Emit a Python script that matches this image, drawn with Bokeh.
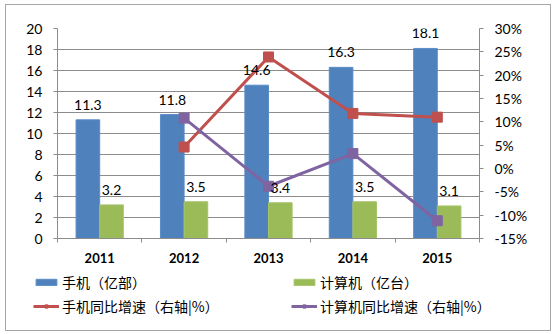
from bokeh.plotting import figure
from bokeh.models import (Range1d, LinearAxis, FixedTicker, PrintfTickFormatter,
                          ColumnDataSource, Legend, LegendItem)
from bokeh.embed import file_html
from bokeh.resources import INLINE
from bokeh.core.properties import value

years = ["2011", "2012", "2013", "2014", "2015"]
phones = [11.3, 11.8, 14.6, 16.3, 18.1]
computers = [3.2, 3.5, 3.4, 3.5, 3.1]
growth_years = ["2012", "2013", "2014", "2015"]
phone_growth = [4.6, 23.9, 11.8, 11.0]
computer_growth = [10.8, -3.8, 3.2, -11.2]
left_ticks = list(range(0, 21, 2))
right_ticks = list(range(-15, 31, 5))
legend_labels = ["手机（亿部）", "计算机（亿台）", "手机同比增速（右轴|%）", "计算机同比增速（右轴|%）"]

BLUE = "#4f81bd"
GREEN = "#9bbb59"
RED = "#c0504d"
PURPLE = "#8064a2"
GRAY = "#8c8c8c"
BORDER = "1px solid #a6a6a6"
NUM_FONT = "Lato"
CJK_FONT = "Noto Sans CJK SC"

centers = [i + 0.5 for i in range(len(years))]
gx = [years.index(y) + 0.5 for y in growth_years]

src = ColumnDataSource(dict(
    xb=[c - 0.14 for c in centers], xg=[c + 0.14 for c in centers],
    phones=phones, computers=computers,
    pl=[f"{v:.1f}" for v in phones], cl=[f"{v:.1f}" for v in computers]))
gsrc = ColumnDataSource(dict(x=gx, pg=phone_growth, cg=computer_growth))

bar_b = dict(fill_color=BLUE, line_color="#5b8cc6", line_width=1)
bar_g = dict(fill_color=GREEN, line_color="#a6c46a", line_width=1)
line_r = dict(line_color=RED, line_width=3)
line_p = dict(line_color=PURPLE, line_width=3)
mark_r = dict(marker="square", size=10, fill_color=RED, line_color=RED)
mark_p = dict(marker="square", size=10, fill_color=PURPLE, line_color=PURPLE)


def add_series(fig, rng=None):
    kw = {} if rng is None else {"y_range_name": rng}
    b = fig.vbar(x="xb", top="phones", width=0.28, source=src, **bar_b)
    g = fig.vbar(x="xg", top="computers", width=0.28, source=src, **bar_g)
    lr = fig.line(x="x", y="pg", source=gsrc, **kw, **line_r)
    mr = fig.scatter(x="x", y="pg", source=gsrc, **kw, **mark_r)
    lp = fig.line(x="x", y="cg", source=gsrc, **kw, **line_p)
    mp = fig.scatter(x="x", y="cg", source=gsrc, **kw, **mark_p)
    return b, g, lr, mr, lp, mp


p = figure(width=546, height=266, output_backend="svg", toolbar_location=None,
           x_range=Range1d(0, len(years)), y_range=Range1d(0, 20),
           min_border_left=51, min_border_right=73, min_border_top=23,
           min_border_bottom=33)
p.extra_y_ranges = {"pct": Range1d(-15, 30)}
p.outline_line_color = None
p.xgrid.visible = False
p.ygrid.grid_line_color = GRAY
p.ygrid.ticker = FixedTicker(ticks=left_ticks)
p.margin = (4, 0, 0, 5)
p.styles = {"border-top": BORDER, "border-left": BORDER, "border-right": BORDER}

# left axis
ya = p.yaxis[0]
ya.ticker = FixedTicker(ticks=left_ticks)
ya.axis_line_color = GRAY
ya.major_tick_line_color = GRAY
ya.major_tick_in = 0
ya.major_tick_out = 4
ya.minor_tick_line_color = None
ya.major_label_standoff = 11
ya.major_label_text_font = NUM_FONT
ya.major_label_text_font_size = "14px"
ya.major_label_text_color = "#000000"

# right axis
ra = LinearAxis(y_range_name="pct", ticker=FixedTicker(ticks=right_ticks),
                formatter=PrintfTickFormatter(format="%d%%"))
ra.axis_line_color = GRAY
ra.major_tick_line_color = GRAY
ra.major_tick_in = 0
ra.major_tick_out = 4
ra.minor_tick_line_color = None
ra.major_label_standoff = 11
ra.major_label_text_font = NUM_FONT
ra.major_label_text_font_size = "14px"
ra.major_label_text_color = "#000000"
p.add_layout(ra, "right")

# x axis
xa = p.xaxis[0]
xa.ticker = FixedTicker(ticks=centers, minor_ticks=list(range(len(years) + 1)))
xa.major_label_overrides = {c: y for c, y in zip(centers, years)}
xa.axis_line_color = GRAY
xa.major_tick_line_color = None
xa.major_tick_out = 0
xa.major_tick_in = 0
xa.minor_tick_line_color = GRAY
xa.minor_tick_out = 4
xa.minor_tick_in = 0
xa.major_label_standoff = 10
xa.major_label_text_font = NUM_FONT
xa.major_label_text_font_style = "bold"
xa.major_label_text_font_size = "13px"
xa.major_label_text_color = "#000000"

add_series(p, "pct")

for xcol, ycol, tcol in (("xb", "phones", "pl"), ("xg", "computers", "cl")):
    p.text(x=xcol, y=ycol, text=tcol, source=src, text_align="center",
           text_baseline="alphabetic", y_offset=-15, text_font=value(NUM_FONT),
           text_font_size="14px", text_color="#000000")

# legend panel: same series drawn off-screen, used as legend keys
leg = figure(width=546, height=61, output_backend="svg", toolbar_location=None,
             x_range=Range1d(0, len(years)), y_range=Range1d(1000, 1001),
             x_axis_location=None, y_axis_location=None, min_border=0)
leg.outline_line_color = None
leg.grid.visible = False
leg.margin = (0, 0, 0, 5)
leg.styles = {"border-bottom": BORDER, "border-left": BORDER, "border-right": BORDER}
kb, kg, klr, kmr, klp, kmp = add_series(leg)

legend = Legend(items=[
    LegendItem(label=legend_labels[0], renderers=[kb]),
    LegendItem(label=legend_labels[2], renderers=[klr, kmr]),
    LegendItem(label=legend_labels[1], renderers=[kg]),
    LegendItem(label=legend_labels[3], renderers=[klp, kmp]),
], ncols=2, location=(27, 15), padding=0, margin=0, spacing=4,
    glyph_width=26, glyph_height=8, label_height=20, label_width=225,
    label_standoff=3, border_line_alpha=0, background_fill_alpha=0,
    label_text_font=CJK_FONT, label_text_font_size="14px",
    label_text_color="#000000")
leg.add_layout(legend, "center")

open("out.html", "w").write(file_html([p, leg], INLINE))
